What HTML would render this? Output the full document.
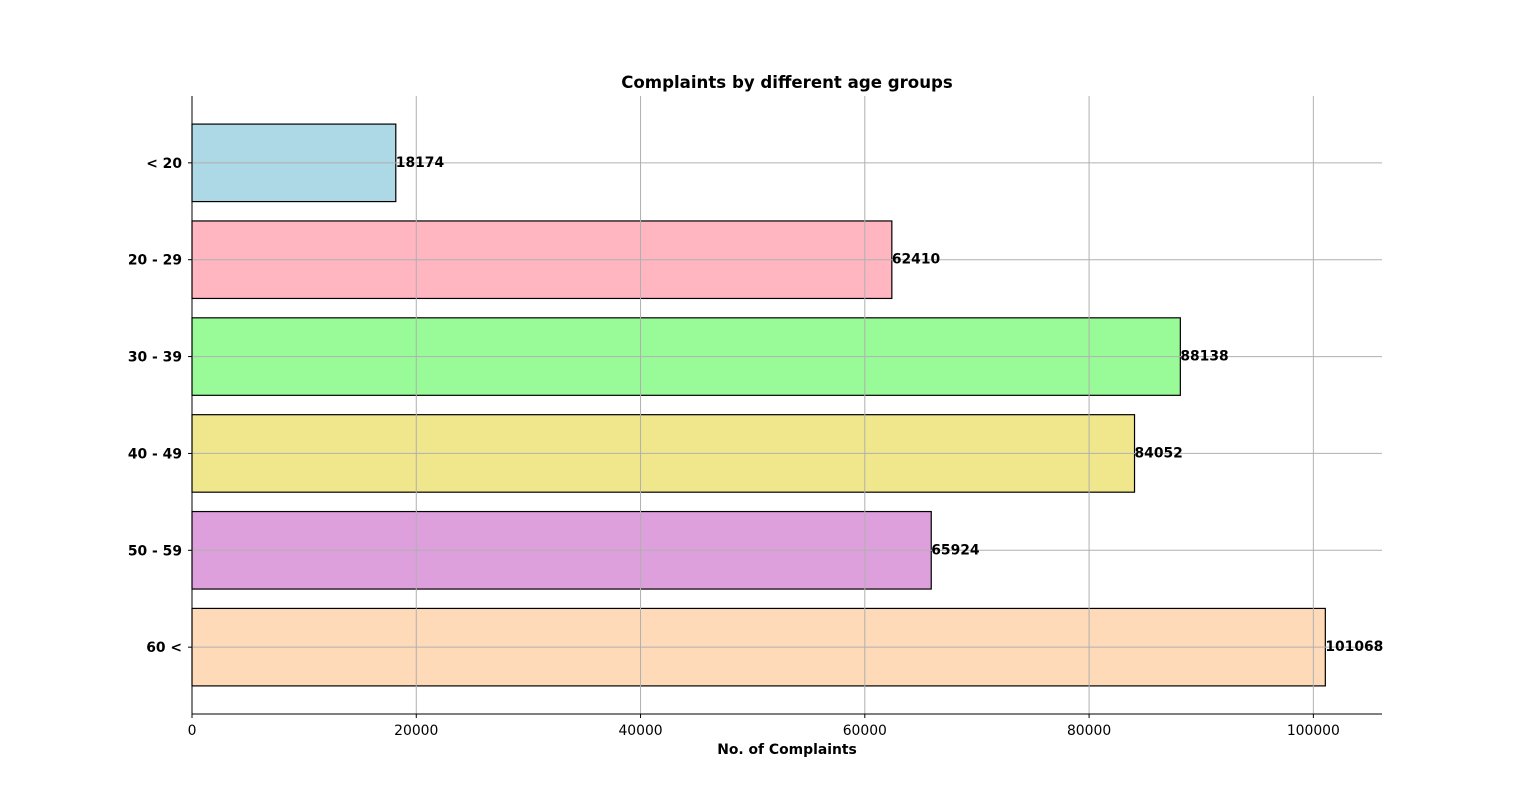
<!DOCTYPE html>
<html><head><meta charset="utf-8"><style>
body{margin:0;background:#fff;}
svg{display:block;font-family:"DejaVu Sans","Liberation Sans",sans-serif;}
</style></head><body>
<svg id="chart" width="1536" height="802" viewBox="0 0 1536 802"></svg>
<script>
const categories = ["< 20","20 - 29","30 - 39","40 - 49","50 - 59","60 <"];
const values = [18174,62410,88138,84052,65924,101068];
const colors = ["#ADD8E6","#FFB6C1","#98FB98","#F0E68C","#DDA0DD","#FFDAB9"];
const xTicks = [0,20000,40000,60000,80000,100000];

const NS="http://www.w3.org/2000/svg";
const svg=document.getElementById('chart');
const L=192,R=1382,T=96,B=714;
const FS=13.9;
const xMax=Math.max(...values)*1.05;
const x=v=>L+(v/xMax)*(R-L);
const n=categories.length;
const yPad=0.69;
const band=(B-T)/(n-1+2*yPad);
const y=i=>T+(yPad+i)*band;
const bh=0.8*band;
function mk(tag,attrs,parent){const e=document.createElementNS(NS,tag);for(const k in attrs)e.setAttribute(k,attrs[k]);(parent||svg).appendChild(e);return e;}

values.forEach((v,i)=>{
  const r=mk('rect',{x:L,y:y(i)-bh/2,width:x(v)-L,height:bh,fill:colors[i],stroke:'#000','stroke-width':1.2});
  
  
});
xTicks.forEach(t=>{
  const g=mk('line',{x1:x(t),x2:x(t),y1:T,y2:B,stroke:'#b0b0b0','stroke-width':1});
  
  
});
categories.forEach((c,i)=>{
  const g=mk('line',{x1:L,x2:R,y1:y(i),y2:y(i),stroke:'#b0b0b0','stroke-width':1});
  
  
});
const sl=mk('line',{x1:L,x2:L,y1:T,y2:B,stroke:'#000','stroke-width':1});


const sb=mk('line',{x1:L,x2:R,y1:B,y2:B,stroke:'#000','stroke-width':1});


xTicks.forEach(t=>{
  mk('line',{x1:x(t),x2:x(t),y1:B,y2:B+4,stroke:'#000'});
  const tx=mk('text',{x:x(t),y:B+21,'text-anchor':'middle','font-size':FS});
  tx.textContent=t;
  
  
});
categories.forEach((c,i)=>{
  mk('line',{x1:L-4,x2:L,y1:y(i),y2:y(i),stroke:'#000'});
  const tx=mk('text',{x:L-10,y:y(i)+5,'text-anchor':'end','font-size':FS,'font-weight':'bold'});
  tx.textContent=c;
  
  
});
values.forEach((v,i)=>{
  const tx=mk('text',{x:x(v),y:y(i)+4,'font-size':FS,'font-weight':'bold'});
  tx.textContent=v;
  
  
});
const xt=mk('text',{x:(L+R)/2,y:754,'text-anchor':'middle','font-size':FS,'font-weight':'bold'});
xt.textContent='No. of Complaints';


const tt=mk('text',{x:(L+R)/2,y:88,'text-anchor':'middle','font-size':16.6,'font-weight':'bold'});
tt.textContent='Complaints by different age groups';


</script>
</body></html>
